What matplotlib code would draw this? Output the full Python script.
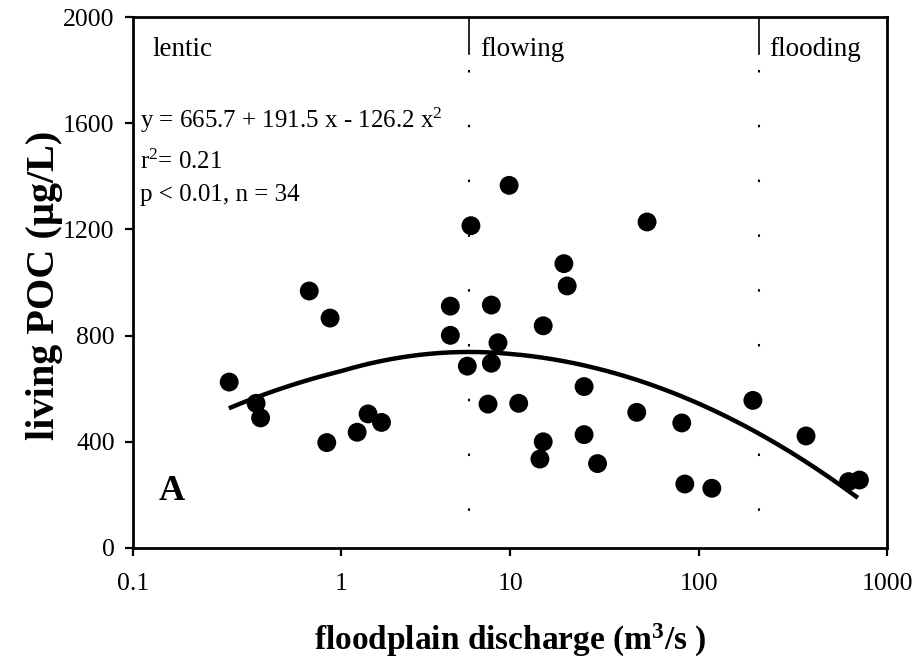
import numpy as np
import matplotlib
matplotlib.use("Agg")
import matplotlib.pyplot as plt

plt.rcParams['font.family'] = ['Liberation Serif', 'DejaVu Serif']
plt.rcParams['mathtext.fontset'] = 'custom'
plt.rcParams['mathtext.rm'] = 'Liberation Serif'
plt.rcParams['mathtext.it'] = 'Liberation Serif:italic'
plt.rcParams['mathtext.bf'] = 'Liberation Serif:bold'

# ---- data ----
discharge = [0.291, 0.392, 0.412, 0.706, 0.889, 0.857, 1.25, 1.45, 1.74,
             4.43, 4.43, 5.58, 5.86, 7.73, 7.73, 7.39, 8.46, 9.84, 11.08,
             14.95, 14.95, 14.36, 19.25, 20.04, 24.64, 24.64, 29.05, 46.9,
             53.2, 81.3, 84.4, 117.4, 194, 371.5, 625, 714]
living_poc = [625, 545, 490, 968, 866, 397, 436, 505, 473,
              911, 801, 685, 1214, 915, 696, 542, 773, 1366, 545,
              837, 400, 335, 1071, 987, 608, 427, 318, 511,
              1228, 471, 241, 225, 556, 422, 250, 256]

fit_coef = [665.7, 191.5, -126.2]      # y = a + b*log10(Q) + c*log10(Q)^2
fit_range = [0.29, 700]
r_squared = 0.21
n_obs = 34

regime_names = ['lentic', 'flowing', 'flooding']
regime_bounds = [5.7, 210]

x_ticks = [0.1, 1, 10, 100, 1000]
x_ticklabels = ['0.1', '1', '10', '100', '1000']
y_ticks = [0, 400, 800, 1200, 1600, 2000]

# ---- axis geometry of the reference (non-uniform decades) ----
knot_log = [-1, 0, 1, 2, 3]
knot_pos = [0.0, 208.0, 377.6, 566.0, 754.3]

def fwd(x):
    x = np.asarray(x, dtype=float)
    return np.interp(np.log10(np.clip(x, 1e-12, None)), knot_log, knot_pos)

def inv(p):
    p = np.asarray(p, dtype=float)
    return 10 ** np.interp(p, knot_pos, knot_log)

W, H = 915, 662
fig = plt.figure(figsize=(W / 100, H / 100), dpi=100)
ax = fig.add_axes([132.7 / W, 1 - 548 / H, (887 - 132.7) / W, (548 - 17) / H])
ax.set_xscale('function', functions=(fwd, inv))
ax.set_xlim(0.1, 1000)
ax.set_ylim(0, 2000)

# scatter
ax.scatter(discharge, living_poc, s=185, color='black', edgecolors='none', zorder=3)

# fitted curve
q = np.geomspace(fit_range[0], fit_range[1], 300)
lq = np.log10(q)
ax.plot(q, fit_coef[0] + fit_coef[1] * lq + fit_coef[2] * lq ** 2,
        color='black', lw=3.2, zorder=2, solid_capstyle='butt')

# regime dividers
for b in regime_bounds:
    ax.plot([b, b], [2000, 1860], color='black', lw=1.2)
    ax.plot([b, b], [1800, 140], color='black', lw=1.5, dashes=(1.2, 25.1))

# regime labels
for name, xf in zip(regime_names, [0.0256, 0.461, 0.8436]):
    ax.text(xf, 0.938, name, transform=ax.transAxes, fontsize=19.5,
            va='center', ha='left')

# equation text
ax.text(0.0097, 0.806, 'y = %.1f + %.1f x - %.1f x$^{2}$' % (fit_coef[0], fit_coef[1], -fit_coef[2]),
        transform=ax.transAxes, fontsize=18, va='center', ha='left')
ax.text(0.0097, 0.7275, 'r$^{2}$= %.2f' % r_squared,
        transform=ax.transAxes, fontsize=18, va='center', ha='left')
ax.text(0.0097, 0.665, 'p < 0.01, n = %d' % n_obs,
        transform=ax.transAxes, fontsize=18, va='center', ha='left')

ax.text(0.035, 0.107, 'A', transform=ax.transAxes, fontsize=26,
        fontweight='bold', va='center', ha='left')

# ticks
ax.set_xticks(x_ticks)
ax.set_xticklabels(x_ticklabels)
ax.set_yticks(y_ticks)
ax.xaxis.set_minor_locator(matplotlib.ticker.NullLocator())
ax.tick_params(axis='both', direction='out', length=6, width=1.6,
               labelsize=18.5)
ax.tick_params(axis='x', pad=12)
ax.tick_params(axis='y', pad=7)
for s in ax.spines.values():
    s.set_linewidth(2)

fig.text(510 / W, 1 - 640 / H, 'floodplain discharge (m$^{\\mathbf{3}}$/s )',
         fontsize=24, fontweight='bold', ha='center', va='center')
fig.text(45 / W, 1 - 285 / H, 'living POC (µg/L)', fontsize=29,
         fontweight='bold', ha='center', va='center', rotation=90)

fig.savefig('out.png', dpi=100)
